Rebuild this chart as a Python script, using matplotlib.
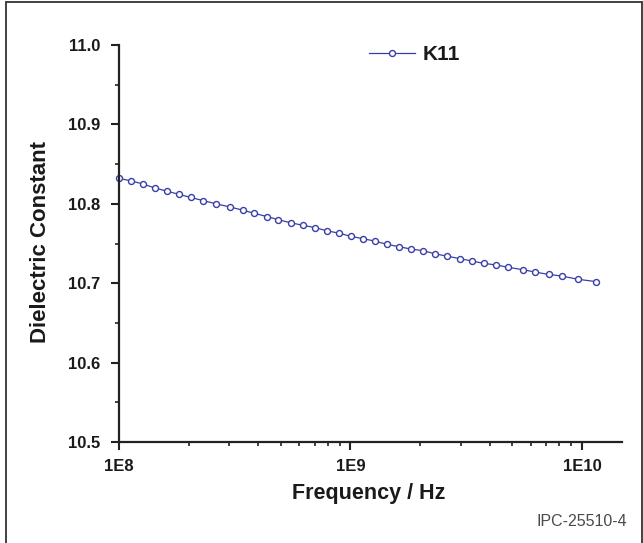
import matplotlib
matplotlib.use("Agg")
import matplotlib.pyplot as plt
from matplotlib.patches import Rectangle
from matplotlib.ticker import FixedLocator, LogLocator, MultipleLocator, NullFormatter

plt.rcParams['font.family'] = ['Liberation Sans', 'DejaVu Sans']

freq_hz = [1.00e8, 1.123e8, 1.266e8, 1.427e8, 1.607e8, 1.811e8, 2.040e8, 2.313e8,
           2.624e8, 3.017e8, 3.423e8, 3.841e8, 4.345e8, 4.878e8, 5.534e8, 6.218e8,
           7.025e8, 7.915e8, 8.920e8, 1.005e9, 1.136e9, 1.276e9, 1.434e9, 1.620e9,
           1.825e9, 2.057e9, 2.317e9, 2.619e9, 2.963e9, 3.338e9, 3.762e9, 4.251e9,
           4.804e9, 5.561e9, 6.283e9, 7.202e9, 8.195e9, 9.582e9, 1.150e10]
k11 = [10.832, 10.829, 10.825, 10.820, 10.816, 10.812, 10.808, 10.804,
       10.800, 10.796, 10.792, 10.788, 10.784, 10.780, 10.776, 10.773,
       10.770, 10.766, 10.763, 10.759, 10.756, 10.753, 10.749, 10.746,
       10.743, 10.741, 10.737, 10.734, 10.731, 10.728, 10.725, 10.723,
       10.720, 10.717, 10.714, 10.711, 10.709, 10.705, 10.702]
x_ticks = [1e8, 1e9, 1e10]
x_tick_labels = ['1E8', '1E9', '1E10']
y_ticks = [10.5, 10.6, 10.7, 10.8, 10.9, 11.0]

W, H = 643, 543
fig = plt.figure(figsize=(W / 100, H / 100), dpi=100)
ax = fig.add_axes([119 / W, (H - 442) / H, (622 - 119) / W, (442 - 45) / H])

line_color = '#3a3fa6'
ax.plot(freq_hz, k11, color=line_color, lw=0.9, marker='o', ms=4.3,
        mfc='white', mec=line_color, mew=1.0, label='K11', clip_on=False)

ax.set_xscale('log')
ax.set_xlim(1e8, 1.49e10)
ax.set_ylim(10.5, 11.0)
ax.xaxis.set_major_locator(FixedLocator(x_ticks))
ax.set_xticklabels(x_tick_labels)
ax.xaxis.set_minor_locator(LogLocator(base=10, subs=range(2, 10)))
ax.xaxis.set_minor_formatter(NullFormatter())
ax.yaxis.set_major_locator(FixedLocator(y_ticks))
ax.set_yticklabels([f'{v:.1f}' for v in y_ticks])
ax.yaxis.set_minor_locator(MultipleLocator(0.05))

text_color = '#1a1a1a'
for s in ['top', 'right']:
    ax.spines[s].set_visible(False)
for s in ['left', 'bottom']:
    ax.spines[s].set_linewidth(1.6)
    ax.spines[s].set_color('#222222')
ax.tick_params(axis='both', which='major', direction='out', length=6, width=1.5,
               color='#222222', labelsize=12, labelcolor=text_color)
ax.tick_params(axis='x', which='major', pad=6.5)
ax.tick_params(axis='y', which='major', pad=7.5)
ax.tick_params(axis='both', which='minor', direction='out', length=3, width=1.2,
               color='#222222')
for lab in ax.get_xticklabels() + ax.get_yticklabels():
    lab.set_fontweight('bold')

ax.set_xlabel('Frequency / Hz', fontsize=15.5, fontweight='bold', color=text_color)
ax.set_ylabel('Dielectric Constant', fontsize=16, fontweight='bold', color=text_color)
ax.xaxis.set_label_coords(0.497, -(493 - 442) / (442 - 45), transform=ax.transAxes)
ax.xaxis.label.set_va('center')
ax.yaxis.set_label_coords(-(119 - 41) / (622 - 119), 0.505, transform=ax.transAxes)
ax.yaxis.label.set_va('center')

leg = ax.legend(loc='center left', bbox_to_anchor=((350 - 119) / (622 - 119), (442 - 55) / (442 - 45)),
                frameon=False, handlelength=2.2, handletextpad=0.4,
                prop={'weight': 'bold', 'size': 15})
for t in leg.get_texts():
    t.set_color(text_color)

fig.text(627 / W, 1 - 521.5 / H, 'IPC-25510-4', ha='right', va='center',
         fontsize=11.5, color='#4a4a4a')

fig.patches.append(Rectangle((5.5 / W, -0.01), (642 - 5.5) / W, 1 - 1.5 / H + 0.01,
                             transform=fig.transFigure, fill=False,
                             edgecolor='#333333', lw=1.3))

fig.savefig('out.png', dpi=100)
